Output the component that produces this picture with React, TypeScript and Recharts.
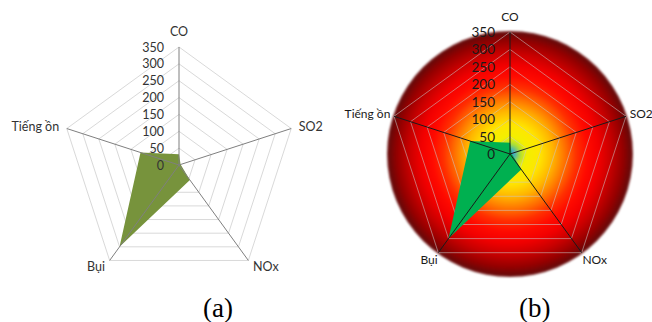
import { PolarAngleAxis, PolarGrid, PolarRadiusAxis, Radar, RadarChart } from 'recharts';

const pollutants = ['CO', 'SO2', 'NOx', 'Bụi', 'Tiếng ồn'];
const levels = [32, 5, 55, 300, 120];
const radiusTicks = [0, 50, 100, 150, 200, 250, 300, 350];

const data = pollutants.map((name, i) => ({ name, value: levels[i] }));

const labelFont = 'Lato, "Open Sans", sans-serif';

function AngleTick(props: any) {
  const { x, y, textAnchor, payload, color, size, pull } = props;
  const dy = textAnchor === 'middle' ? -8 : 0;
  const dx = textAnchor === 'start' ? -pull : textAnchor === 'end' ? pull : 0;
  return (
    <text x={x + dx} y={y + dy} textAnchor={textAnchor} dominantBaseline="central" fontSize={size} fontFamily={labelFont} fill={color}>
      {payload.value}
    </text>
  );
}

function RadiusTick(props: any) {
  const { x, y, payload, color, size } = props;
  return (
    <text x={x - 15} y={y} textAnchor="end" dominantBaseline="central" fontSize={size} fontFamily={labelFont} fill={color}>
      {payload.value}
    </text>
  );
}

type PanelProps = {
  cx: number;
  cy: number;
  r: number;
  fill: string;
  ringStroke: string;
  spokeStroke: string;
  textColor: string;
  numSize: number;
  nameSize: number;
  pull: number;
};

// bottom layer: rings + filled series
function Panel({ cx, cy, r, fill, ringStroke }: PanelProps) {
  return (
    <RadarChart width={326} height={290} data={data} cx={cx} cy={cy} outerRadius={r} style={{ position: 'absolute', left: 0, top: 0 }}>
      <PolarGrid gridType="polygon" radialLines={false} stroke={ringStroke} />
      <PolarAngleAxis dataKey="name" tick={false} tickLine={false} axisLine={false} />
      <PolarRadiusAxis angle={90} domain={[0, 350]} ticks={radiusTicks as any} tickCount={8} tick={false} axisLine={false} tickLine={false} />
      <Radar dataKey="value" fill={fill} fillOpacity={1} stroke="none" isAnimationActive={false} />
    </RadarChart>
  );
}

// top layer: spokes and labels drawn over the series
function Overlay({ cx, cy, r, spokeStroke, textColor, numSize, nameSize, pull }: PanelProps) {
  return (
    <RadarChart width={326} height={290} data={data} cx={cx} cy={cy} outerRadius={r} style={{ position: 'absolute', left: 0, top: 0 }}>
      <PolarGrid gridType="polygon" polarRadius={[]} stroke={spokeStroke} />
      <PolarAngleAxis dataKey="name" tickLine={false} axisLine={false} tick={<AngleTick color={textColor} size={nameSize} pull={pull} />} />
      <PolarRadiusAxis
        angle={90}
        domain={[0, 350]}
        ticks={radiusTicks as any}
        tickCount={8}
        axisLine={false}
        tickLine={false}
        tick={<RadiusTick color={textColor} size={numSize} />}
      />
      <Radar dataKey="value" fill="none" stroke="none" isAnimationActive={false} />
    </RadarChart>
  );
}

const panelA: PanelProps = { cx: 179, cy: 165, r: 118, fill: '#77933c', ringStroke: '#d9d9d9', spokeStroke: '#7f7f7f', textColor: '#333', numSize: 12.5, nameSize: 12.5, pull: 0 };
const panelB: PanelProps = { cx: 184, cy: 154, r: 122, fill: '#00b050', ringStroke: 'rgba(200,200,200,0.55)', spokeStroke: '#1a1a1a', textColor: '#1a1a1a', numSize: 13.5, nameSize: 12, pull: 4 };

export default function App() {
  const caption = { position: 'absolute' as const, top: 292, fontFamily: '"Liberation Serif", "Times New Roman", serif', fontSize: 27, lineHeight: '32px', color: '#000' };
  return (
    <div style={{ position: 'absolute', left: 0, top: 0, width: 652, height: 322, background: '#fff', overflow: 'hidden' }}>
      <div style={{ position: 'absolute', left: 0, top: 0, width: 326, height: 290 }}>
        <Panel {...panelA} />
        <Overlay {...panelA} />
      </div>
      <div style={{ position: 'absolute', left: 326, top: 0, width: 326, height: 290 }}>
        <div
          style={{
            position: 'absolute',
            left: 184 - 123,
            top: 154 - 123,
            width: 246,
            height: 246,
            borderRadius: '50%',
            filter: 'blur(1.2px)',
            background:
              'radial-gradient(circle closest-side, #3f8ad6 0%, #48b4b8 4%, #a6dc3c 8%, #f2f000 13%, #ffe600 24%, #ffb400 35%, #ff7000 45%, #ff3000 54%, #ff0a00 63%, #f20000 72%, #c80000 82%, #940000 92%, #6a0808 98%, #7a2a2a 100%)',
          }}
        />
        <Panel {...panelB} />
        <Overlay {...panelB} />
      </div>
      <div style={{ ...caption, left: 203 }}>(a)</div>
      <div style={{ ...caption, left: 519 }}>(b)</div>
    </div>
  );
}
